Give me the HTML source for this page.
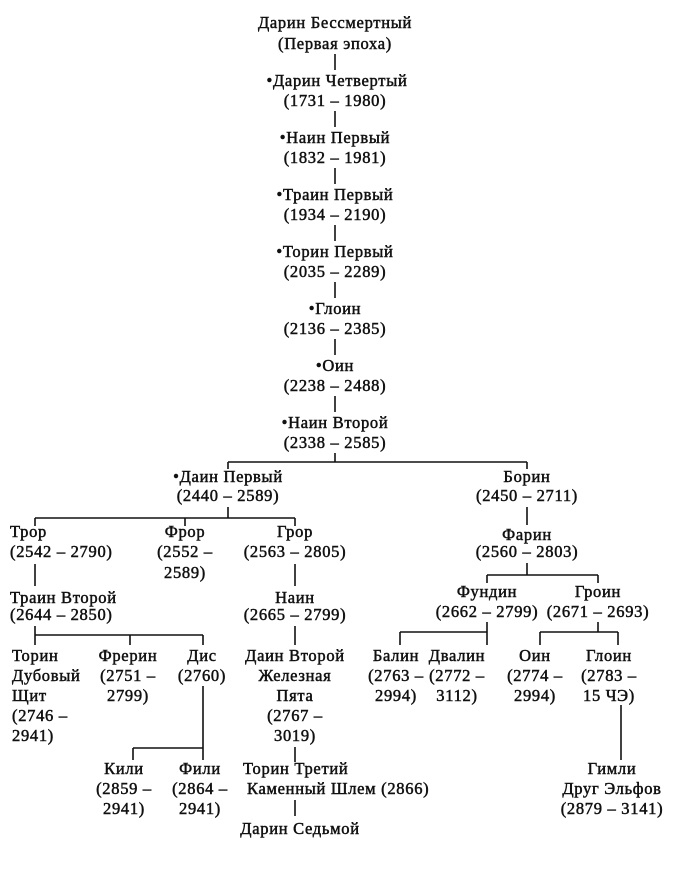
<!DOCTYPE html>
<html><head><meta charset="utf-8"><style>
html,body{margin:0;padding:0;background:#fff;}
svg{display:block}
text{font-family:"Liberation Serif",serif;font-size:16.5px;letter-spacing:0.7px;fill:#111;stroke:#111;stroke-width:0.5;}
line{stroke:#111;stroke-width:1.6;}
</style></head><body>
<svg width="690" height="882" viewBox="0 0 690 882" xmlns="http://www.w3.org/2000/svg">
<g text-anchor="middle">
<text x="335" y="28">Дарин Бессмертный</text>
<text x="335" y="49">(Первая эпоха)</text>
<text x="337" y="86">•Дарин Четвертый</text>
<text x="335" y="106">(1731 – 1980)</text>
<text x="335" y="143">•Наин Первый</text>
<text x="335" y="163">(1832 – 1981)</text>
<text x="335" y="200">•Траин Первый</text>
<text x="335" y="220">(1934 – 2190)</text>
<text x="335" y="257">•Торин Первый</text>
<text x="335" y="277">(2035 – 2289)</text>
<text x="335" y="314">•Глоин</text>
<text x="335" y="334">(2136 – 2385)</text>
<text x="335" y="371">•Оин</text>
<text x="335" y="391">(2238 – 2488)</text>
<text x="335" y="428">•Наин Второй</text>
<text x="335" y="448">(2338 – 2585)</text>
<text x="228" y="482">•Даин Первый</text>
<text x="228" y="501">(2440 – 2589)</text>
<text x="527" y="482">Борин</text>
<text x="527" y="501">(2450 – 2711)</text>
<text x="185" y="537">Фрор</text>
<text x="185" y="557">(2552 –</text>
<text x="185" y="578">2589)</text>
<text x="295" y="537">Грор</text>
<text x="295" y="557">(2563 – 2805)</text>
<text x="295" y="603">Наин</text>
<text x="295" y="620">(2665 – 2799)</text>
<text x="527" y="540">Фарин</text>
<text x="527" y="557">(2560 – 2803)</text>
<text x="487" y="597">Фундин</text>
<text x="487" y="617">(2662 – 2799)</text>
<text x="598" y="597">Гроин</text>
<text x="598" y="617">(2671 – 2693)</text>
<text x="128" y="661">Фрерин</text>
<text x="128" y="681">(2751 –</text>
<text x="128" y="701">2799)</text>
<text x="202" y="661">Дис</text>
<text x="202" y="681">(2760)</text>
<text x="295" y="661">Даин Второй</text>
<text x="295" y="681">Железная</text>
<text x="295" y="701">Пята</text>
<text x="295" y="721">(2767 –</text>
<text x="295" y="741">3019)</text>
<text x="396" y="661">Балин</text>
<text x="396" y="681">(2763 –</text>
<text x="396" y="701">2994)</text>
<text x="457" y="661">Двалин</text>
<text x="457" y="681">(2772 –</text>
<text x="457" y="701">3112)</text>
<text x="535" y="661">Оин</text>
<text x="535" y="681">(2774 –</text>
<text x="535" y="701">2994)</text>
<text x="609" y="661">Глоин</text>
<text x="609" y="681">(2783 –</text>
<text x="609" y="701">15 ЧЭ)</text>
<text x="124" y="774">Кили</text>
<text x="124" y="794">(2859 –</text>
<text x="124" y="814">2941)</text>
<text x="200" y="774">Фили</text>
<text x="200" y="794">(2864 –</text>
<text x="200" y="814">2941)</text>
<text x="612" y="774">Гимли</text>
<text x="612" y="794">Друг Эльфов</text>
<text x="612" y="814">(2879 – 3141)</text>
<text x="300" y="834">Дарин Седьмой</text>
</g>
<g text-anchor="start">
<text x="10" y="537">Трор</text>
<text x="10" y="557">(2542 – 2790)</text>
<text x="10" y="603">Траин Второй</text>
<text x="10" y="620">(2644 – 2850)</text>
<text x="12" y="661">Торин</text>
<text x="12" y="681">Дубовый</text>
<text x="12" y="701">Щит</text>
<text x="12" y="721">(2746 –</text>
<text x="12" y="741">2941)</text>
<text x="243" y="774">Торин Третий</text>
<text x="247" y="794">Каменный Шлем (2866)</text>
</g>
<g>
<line x1="335" y1="54" x2="335" y2="70"/>
<line x1="335" y1="111" x2="335" y2="127"/>
<line x1="335" y1="168" x2="335" y2="184"/>
<line x1="335" y1="225" x2="335" y2="241"/>
<line x1="335" y1="282" x2="335" y2="298"/>
<line x1="335" y1="339" x2="335" y2="355"/>
<line x1="335" y1="396" x2="335" y2="412"/>
<line x1="335" y1="453" x2="335" y2="462"/>
<line x1="228" y1="462" x2="527" y2="462"/>
<line x1="228" y1="462" x2="228" y2="469"/>
<line x1="527" y1="462" x2="527" y2="469"/>
<line x1="228" y1="507" x2="228" y2="518"/>
<line x1="35" y1="518" x2="295" y2="518"/>
<line x1="35" y1="518" x2="35" y2="526"/>
<line x1="185" y1="518" x2="185" y2="526"/>
<line x1="295" y1="518" x2="295" y2="526"/>
<line x1="35" y1="564" x2="35" y2="586"/>
<line x1="295" y1="564" x2="295" y2="586"/>
<line x1="527" y1="507" x2="527" y2="525"/>
<line x1="527" y1="563" x2="527" y2="575"/>
<line x1="487" y1="575" x2="598" y2="575"/>
<line x1="487" y1="575" x2="487" y2="583"/>
<line x1="598" y1="575" x2="598" y2="583"/>
<line x1="35" y1="626" x2="35" y2="645"/>
<line x1="35" y1="635" x2="203" y2="635"/>
<line x1="130" y1="635" x2="130" y2="645"/>
<line x1="203" y1="635" x2="203" y2="645"/>
<line x1="295" y1="626" x2="295" y2="645"/>
<line x1="487" y1="622" x2="487" y2="645"/>
<line x1="400" y1="632" x2="487" y2="632"/>
<line x1="400" y1="632" x2="400" y2="645"/>
<line x1="598" y1="622" x2="598" y2="632"/>
<line x1="540" y1="632" x2="618" y2="632"/>
<line x1="540" y1="632" x2="540" y2="645"/>
<line x1="618" y1="632" x2="618" y2="645"/>
<line x1="203" y1="686" x2="203" y2="760"/>
<line x1="133" y1="748" x2="203" y2="748"/>
<line x1="133" y1="748" x2="133" y2="760"/>
<line x1="295" y1="747" x2="295" y2="762"/>
<line x1="295" y1="800" x2="295" y2="816"/>
<line x1="621" y1="705" x2="621" y2="760"/>
</g>
</svg>
</body></html>
